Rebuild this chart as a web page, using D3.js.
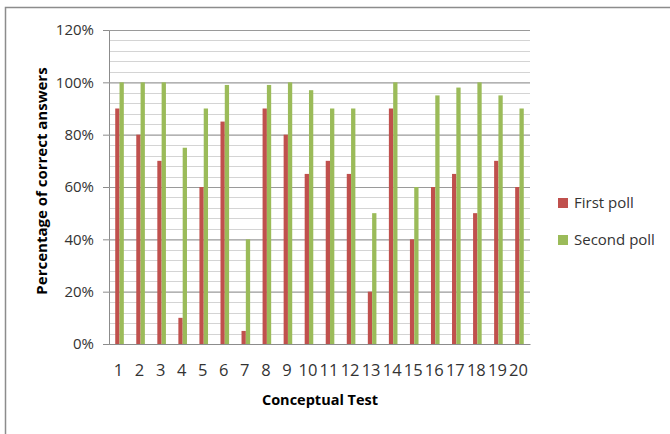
<!DOCTYPE html>
<html>
<head>
<meta charset="utf-8">
<script src="https://cdn.jsdelivr.net/npm/d3@7"></script>
<style>
  body { margin: 0; background: #fff; }
  svg { display: block; }
</style>
</head>
<body>
<script>
var width  = 670;
var height = 434;

// data
var tests      = ['1','2','3','4','5','6','7','8','9','10','11','12','13','14','15','16','17','18','19','20'];
var firstPoll  = [90, 80, 70, 10, 60, 85,  5, 90, 80, 65, 70, 65, 20, 90, 40, 60, 65, 50, 70, 60];
var secondPoll = [100,100,100, 75, 90, 99, 40, 99,100, 97, 90, 90, 50,100, 60, 95, 98,100, 95, 90];
var seriesNames = ['First poll', 'Second poll'];
var yTicks = [0, 20, 40, 60, 80, 100, 120];

var colors = ['#c0504d', '#9bbb59'];
var font = '"Open Sans", "DejaVu Sans", sans-serif';

var plot = { left: 109, right: 530, top: 30, bottom: 344 };

var svg = d3.select('body').append('svg')
  .attr('width', width)
  .attr('height', height);

// outer frame (only top and left edges show in the crop)
svg.append('path')
  .attr('d', 'M5.5,' + height + 'V7.5H' + width)
  .attr('fill', 'none')
  .attr('stroke', '#8c8c8c')
  .attr('stroke-width', 1.5);

var x = d3.scaleBand()
  .domain(tests)
  .range([plot.left, plot.right]);

var y = d3.scaleLinear()
  .domain([0, 120])
  .range([plot.bottom, plot.top]);

var barW = 4.3;

// minor gridlines every 4%
svg.append('g')
  .selectAll('line')
  .data(d3.range(0, 121, 4).filter(function(v){ return v % 20 !== 0; }))
  .enter().append('line')
  .attr('x1', plot.left).attr('x2', plot.right)
  .attr('y1', function(d){ return Math.round(y(d)) + 0.5; })
  .attr('y2', function(d){ return Math.round(y(d)) + 0.5; })
  .attr('stroke', '#d4d4d4')
  .attr('stroke-width', 1.2);

// y axis with major gridlines
var yAxis = svg.append('g')
  .attr('transform', 'translate(' + plot.left + ',0)')
  .call(d3.axisLeft(y)
    .tickValues(yTicks)
    .tickSize(6)
    .tickPadding(9)
    .tickFormat(function(d){ return d + '%'; }));

yAxis.select('.domain').attr('stroke', '#8c8c8c');
yAxis.selectAll('.tick line').attr('stroke', '#8c8c8c');
yAxis.selectAll('.tick')
  .append('line')
  .attr('x1', 0).attr('x2', plot.right - plot.left)
  .attr('stroke', '#9a9a9a')
  .attr('stroke-width', 1.2);
yAxis.selectAll('text')
  .attr('font-family', font)
  .attr('font-size', '15px')
  .attr('fill', '#333');

// bars
var series = [firstPoll, secondPoll];
series.forEach(function(vals, si){
  svg.append('g')
    .selectAll('rect')
    .data(vals)
    .enter().append('rect')
    .attr('x', function(d, i){ return x(tests[i]) + x.bandwidth() / 2 - barW + si * barW; })
    .attr('y', function(d){ return y(d); })
    .attr('width', barW)
    .attr('height', function(d){ return y(0) - y(d); })
    .attr('fill', colors[si]);
});

// x axis
var xAxis = svg.append('g')
  .attr('transform', 'translate(0,' + plot.bottom + ')')
  .call(d3.axisBottom(x).tickSize(0).tickPadding(20));

xAxis.select('.domain').attr('stroke', '#8c8c8c');
xAxis.selectAll('text')
  .attr('font-family', font)
  .attr('font-size', '16.5px')
  .attr('fill', '#333')
  .attr('dx', '-1');

// axis titles
svg.append('text')
  .attr('x', 320)
  .attr('y', 405)
  .attr('text-anchor', 'middle')
  .attr('font-family', font)
  .attr('font-weight', 'bold')
  .attr('font-size', '14.5px')
  .attr('fill', '#000')
  .text('Conceptual Test');

svg.append('text')
  .attr('transform', 'translate(47,181) rotate(-90)')
  .attr('text-anchor', 'middle')
  .attr('font-family', font)
  .attr('font-weight', 'bold')
  .attr('font-size', '15px')
  .attr('fill', '#000')
  .text('Percentage of correct answers');

// legend
var legend = svg.append('g')
  .selectAll('g')
  .data(seriesNames)
  .enter().append('g')
  .attr('transform', function(d, i){ return 'translate(558,' + (203 + i * 37) + ')'; });

legend.append('rect')
  .attr('x', 0).attr('y', -5)
  .attr('width', 10).attr('height', 10)
  .attr('fill', function(d, i){ return colors[i]; });

legend.append('text')
  .attr('x', 16)
  .attr('y', 0)
  .attr('dy', '0.35em')
  .attr('font-family', font)
  .attr('font-size', '15px')
  .attr('fill', '#333')
  .text(function(d){ return d; });
</script>
</body>
</html>
